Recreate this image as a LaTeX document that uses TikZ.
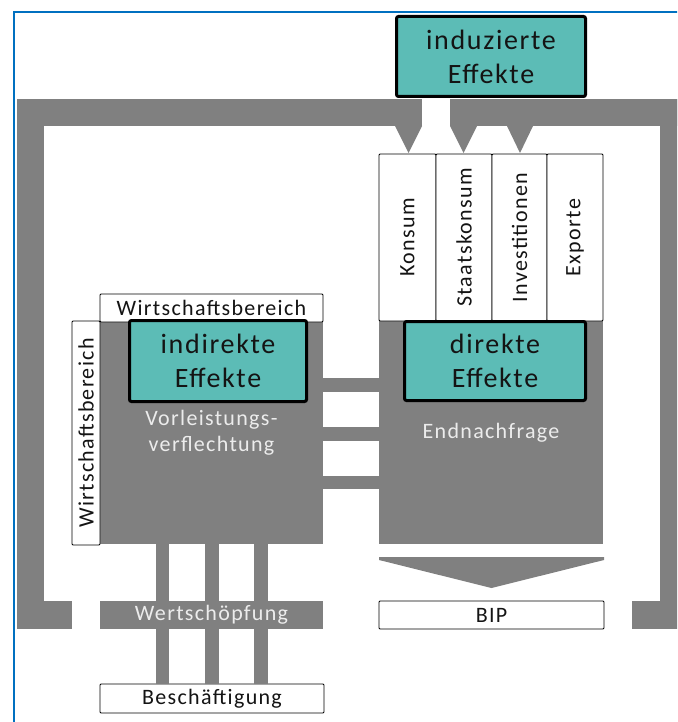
\documentclass[tikz,border=0pt]{standalone}
\usepackage{fontspec}
\setmainfont{Carlito}
\newfontfamily\trackfont[LetterSpace=6]{Carlito}
\definecolor{barg}{RGB}{128,128,128}
\definecolor{tealfill}{RGB}{92,188,182}
\definecolor{frameblue}{RGB}{0,112,192}
\definecolor{lighttxt}{RGB}{236,236,236}
\definecolor{darktxt}{RGB}{20,20,20}
\begin{document}
\begin{tikzpicture}[x=1pt,y=-1pt,
  bar/.style={fill=barg,draw=none},
  box/.style={rectangle,inner sep=0pt,outer sep=0pt},
  effekt/.style={box,fill=tealfill,draw=black,line width=3pt,rounded corners=2pt,
     font=\trackfont\fontsize{28}{34}\selectfont,text=darktxt,align=center},
  whitebox/.style={box,fill=white,draw=black,line width=0.9pt,rounded corners=1pt,
     font=\trackfont\fontsize{22}{26}\selectfont,text=darktxt},
  graybox/.style={box,fill=barg,font=\trackfont\fontsize{22}{26}\selectfont,
     text=lighttxt,align=center},
]
\clip (0,0) rectangle (677,722);
\fill[white] (0,0) rectangle (677,722);

% outer frame of the induced loop
\fill[bar] (17,99) rectangle (422,126);
\fill[bar] (450,99) rectangle (690,126);
\fill[bar] (17,99) rectangle (44,601);
\fill[bar] (660,99) rectangle (690,601);
\fill[bar] (17,601) rectangle (72,629);
\fill[bar] (632,601) rectangle (690,629);
% small arrow heads into the demand columns
\fill[bar] (395,126) -- (422,126) -- (408.5,153) -- cycle;
\fill[bar] (450,126) -- (477,126) -- (463.5,153) -- cycle;
\fill[bar] (507,126) -- (533,126) -- (520,153) -- cycle;

% main blocks
\node[graybox,minimum width=223,minimum height=223] (vl) at (211.5,432.5) {Vorleistungs-\\verflechtung};
\node[graybox,minimum width=224,minimum height=223] (en) at (491,432.5) {Endnachfrage};

% connectors between the blocks
\fill[bar] (vl.east |- 0,378) rectangle (en.west |- 0,392);
\fill[bar] (vl.east |- 0,427) rectangle (en.west |- 0,441);
\fill[bar] (vl.east |- 0,476) rectangle (en.west |- 0,489);

% value added / employment
\node[whitebox,minimum width=224,minimum height=29] (besch) at (212,698.5) {Beschäftigung};
\fill[bar] (156,0 |- vl.south) rectangle (169,0 |- besch.north);
\fill[bar] (205,0 |- vl.south) rectangle (219,0 |- besch.north);
\fill[bar] (254,0 |- vl.south) rectangle (268,0 |- besch.north);
\node[graybox,minimum width=223,minimum height=28] (wert) at (211.5,615) {Wertschöpfung};

% big arrow and BIP
\fill[bar] (379,557) -- (604,557) -- (604,560) -- (491.5,588) -- (379,560) -- cycle;
\node[whitebox,minimum width=225,minimum height=28] (bip) at (491.5,615) {BIP};

% sector labels
\node[whitebox,minimum width=223,minimum height=28] (wbh) at (211.5,308) {Wirtschaftsbereich};
\node[whitebox,rotate=90,minimum width=224,minimum height=28] (wbv) at (86,433) {Wirtschaftsbereich};

% final demand columns
\node[whitebox,rotate=90,minimum width=167,minimum height=57] (c1) at (407.5,237.5) {Konsum};
\node[whitebox,rotate=90,minimum width=167,minimum height=56] (c2) at (464,237.5) {Staatskonsum};
\node[whitebox,rotate=90,minimum width=167,minimum height=55] (c3) at (519.5,237.5) {Investitionen};
\node[whitebox,rotate=90,minimum width=167,minimum height=56] (c4) at (575,237.5) {Exporte};

% effect boxes
\node[effekt,minimum width=189,minimum height=80] (induz) at (491,56.5) {induzierte\\Effekte};
\node[effekt,minimum width=181,minimum height=79] (direkt) at (495,361) {direkte\\Effekte};
\node[effekt,minimum width=177,minimum height=81] (indirekt) at (218,361) {indirekte\\Effekte};

% blue frame
\draw[frameblue,line width=2pt] (14,740) -- (14,12) -- (700,12);
\end{tikzpicture}
\end{document}
